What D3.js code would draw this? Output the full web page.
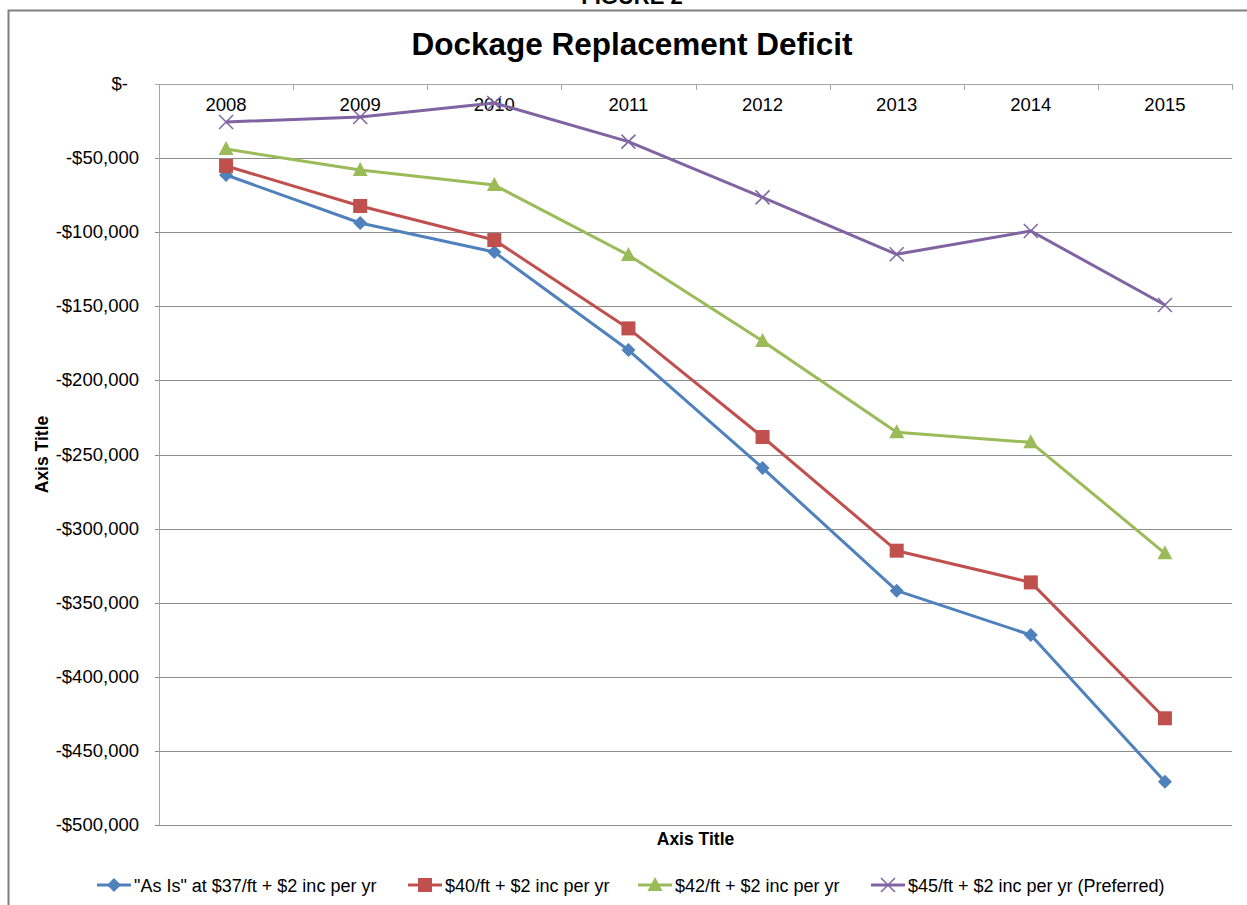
<!DOCTYPE html>
<html>
<head>
<meta charset="utf-8">
<script src="https://cdn.jsdelivr.net/npm/d3@7"></script>
<style>
  body { margin: 0; background: #fff; }
  svg { font-family: "Liberation Sans", Arial, sans-serif; }
</style>
</head>
<body>
<div id="chart"></div>
<script>
// categories and series
var years = ["2008", "2009", "2010", "2011", "2012", "2013", "2014", "2015"];
var asIs37  = [-61400, -93800, -113400, -179500, -259100, -341900, -371800, -470800];
var rate40  = [-55300, -82300, -105300, -164900, -238200, -314900, -336300, -428000];
var rate42  = [-43900, -58000, -68200, -115400, -173400, -235000, -241800, -316700];
var rate45  = [-25600, -22300, -12800, -38900, -76500, -114900, -99200, -149100];
var seriesNames = ["\"As Is\" at $37/ft + $2 inc per yr", "$40/ft + $2 inc per yr",
                   "$42/ft + $2 inc per yr", "$45/ft + $2 inc per yr (Preferred)"];
var yTicks = [0, -50000, -100000, -150000, -200000, -250000, -300000, -350000, -400000, -450000, -500000];

var series = [
  {name: seriesNames[0], values: asIs37, color: "#4F81BD", marker: "diamond"},
  {name: seriesNames[1], values: rate40, color: "#C0504D", marker: "square"},
  {name: seriesNames[2], values: rate42, color: "#9BBB59", marker: "triangle"},
  {name: seriesNames[3], values: rate45, color: "#8064A2", marker: "x"}
];

var W = 1247, H = 905;
var margin = {top: 84, right: 15, bottom: 80, left: 159},
    width = 1232 - margin.left,
    height = 825 - margin.top;

var svg = d3.select("#chart").append("svg")
    .attr("width", W)
    .attr("height", H);

// frame of the chart object
svg.append("path")
    .attr("d", "M8.5," + H + " V10.5 H" + W)
    .attr("fill", "none")
    .attr("stroke", "#7f7f7f")
    .attr("stroke-width", 2);

// figure caption, mostly cut off at the top
svg.append("text")
    .attr("x", 632).attr("y", 4)
    .attr("text-anchor", "middle")
    .style("font-size", "22px").style("font-weight", "bold")
    .text("FIGURE 2");

svg.append("text")
    .attr("x", 632).attr("y", 55)
    .attr("text-anchor", "middle")
    .style("font-size", "31.5px").style("font-weight", "bold")
    .text("Dockage Replacement Deficit");

var g = svg.append("g")
    .attr("transform", "translate(" + margin.left + "," + margin.top + ")");

var x = d3.scaleBand().domain(years).range([0, width]);
var y = d3.scaleLinear().domain([-500000, 0]).range([height, 0]);

// gridlines
g.selectAll(".grid")
  .data(yTicks)
  .enter().append("line")
    .attr("x1", -4).attr("x2", width)
    .attr("y1", function(d) { return Math.round(y(d)) + 0.5; })
    .attr("y2", function(d) { return Math.round(y(d)) + 0.5; })
    .attr("stroke", function(d) { return d === 0 ? "#a6a6a6" : "#8c8c8c"; })
    .attr("stroke-width", 1);

// left axis line
g.append("line")
    .attr("x1", 0.5).attr("x2", 0.5)
    .attr("y1", 0).attr("y2", height)
    .attr("stroke", "#a6a6a6");

// category axis sits at zero (top), tick marks between categories
var bounds = years.map(function(d) { return x(d); }).concat([width]);
g.selectAll(".xtick")
  .data(bounds.slice(1))
  .enter().append("line")
    .attr("x1", function(d) { return Math.round(d) + 0.5; })
    .attr("x2", function(d) { return Math.round(d) + 0.5; })
    .attr("y1", 0).attr("y2", 6)
    .attr("stroke", "#a6a6a6");

g.selectAll(".xlabel")
  .data(years)
  .enter().append("text")
    .attr("x", function(d) { return x(d) + x.bandwidth() / 2; })
    .attr("y", 27)
    .attr("text-anchor", "middle")
    .style("font-size", "18.5px")
    .text(function(d) { return d; });

var fmt = d3.format(",");
g.selectAll(".ylabel")
  .data(yTicks)
  .enter().append("text")
    .attr("x", function(d) { return d === 0 ? -31 : -20; })
    .attr("y", function(d) { return y(d) + 6; })
    .attr("text-anchor", "end")
    .style("font-size", "18.5px")
    .text(function(d) { return d === 0 ? "$-" : "-$" + fmt(-d); });

// axis titles
svg.append("text")
    .attr("transform", "translate(48," + (margin.top + height / 2) + ") rotate(-90)")
    .attr("text-anchor", "middle")
    .style("font-size", "17.5px").style("font-weight", "bold")
    .text("Axis Title");

svg.append("text")
    .attr("x", margin.left + width / 2).attr("y", 845)
    .attr("text-anchor", "middle")
    .style("font-size", "17.5px").style("font-weight", "bold")
    .text("Axis Title");

// markers
function drawMarker(sel, type, color) {
  if (type === "diamond") {
    sel.append("path").attr("d", "M0,-7 L7,0 L0,7 L-7,0 Z").attr("fill", color);
  } else if (type === "square") {
    sel.append("rect").attr("x", -7).attr("y", -7).attr("width", 14).attr("height", 14).attr("fill", color);
  } else if (type === "triangle") {
    sel.append("path").attr("d", "M0,-8 L7.5,6 L-7.5,6 Z").attr("fill", color);
  } else {
    sel.append("path").attr("d", "M-7,-7 L7,7 M7,-7 L-7,7")
      .attr("stroke", color).attr("stroke-width", 1.5).attr("fill", "none");
  }
}

var line = d3.line()
    .x(function(d, i) { return x(years[i]) + x.bandwidth() / 2; })
    .y(function(d) { return y(d); });

series.forEach(function(s) {
  g.append("path")
      .datum(s.values)
      .attr("fill", "none")
      .attr("stroke", s.color)
      .attr("stroke-width", 3)
      .attr("stroke-linejoin", "round")
      .attr("d", line);

  g.selectAll(null)
    .data(s.values)
    .enter().append("g")
      .attr("transform", function(d, i) {
        return "translate(" + (x(years[i]) + x.bandwidth() / 2) + "," + y(d) + ")";
      })
      .each(function() { drawMarker(d3.select(this), s.marker, s.color); });
});

// legend
var legendX = [97, 408, 638, 871];
var legend = svg.selectAll(".legend")
  .data(series)
  .enter().append("g")
    .attr("transform", function(d, i) { return "translate(" + legendX[i] + ",885)"; });

legend.append("line")
    .attr("x1", 0).attr("x2", 34)
    .attr("stroke", function(d) { return d.color; })
    .attr("stroke-width", 3);

legend.append("g")
    .attr("transform", "translate(17,0)")
    .each(function(d) { drawMarker(d3.select(this), d.marker, d.color); });

legend.append("text")
    .attr("x", 37).attr("y", 6.5)
    .style("font-size", "18px")
    .text(function(d) { return d.name; });
</script>
</body>
</html>
